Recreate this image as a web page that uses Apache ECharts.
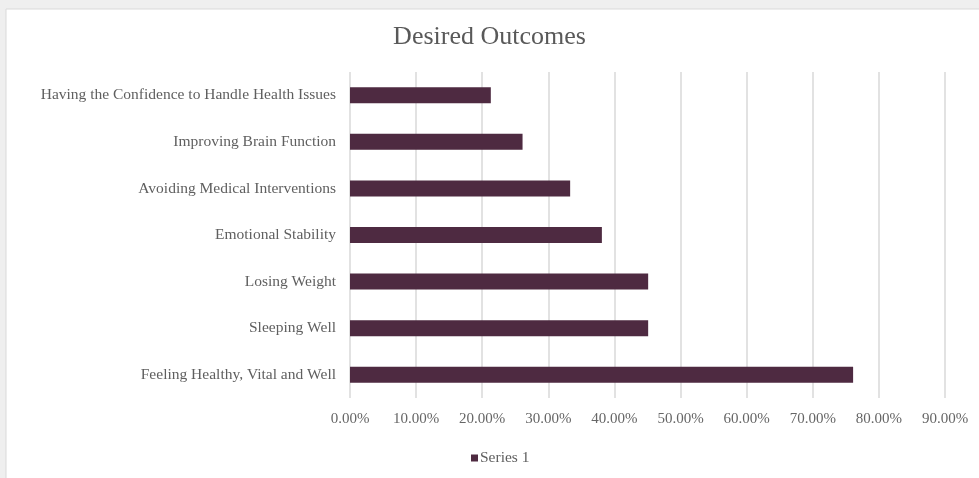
<!DOCTYPE html>
<html>
<head>
<meta charset="utf-8">
<script src="https://cdn.jsdelivr.net/npm/echarts@6/dist/echarts.min.js"></script>
<style>
html,body{margin:0;padding:0;background:#efefef;}
#chart{position:absolute;left:0;top:0;width:979px;height:478px;}
</style>
</head>
<body>
<div id="chart"></div>
<script>
const categories = [
  "Feeling Healthy, Vital and Well",
  "Sleeping Well",
  "Losing Weight",
  "Emotional Stability",
  "Avoiding Medical Interventions",
  "Improving Brain Function",
  "Having the Confidence to Handle Health Issues"
];
const seriesValues = [0.761, 0.451, 0.451, 0.381, 0.333, 0.261, 0.213];
const seriesName = "Series 1";
const titleText = "Desired Outcomes";

const font = "'Liberation Serif', 'DejaVu Serif', serif";
const chart = echarts.init(document.getElementById('chart'));
chart.setOption({
  backgroundColor: '#efefef',
  animation: false,
  graphic: [{
    type: 'rect', z: -10, silent: true,
    shape: {x: 6, y: 9, width: 980, height: 476},
    style: {fill: '#ffffff', stroke: '#d9d9d9', lineWidth: 1}
  }],
  title: {
    text: titleText, left: 'center', top: 19,
    textStyle: {fontFamily: font, fontSize: 26, fontWeight: 'normal', color: '#595959'}
  },
  grid: {left: 350, right: 34, top: 72, bottom: 80, containLabel: false},
  xAxis: {
    type: 'value', min: 0, max: 0.9, interval: 0.1,
    axisLine: {show: false}, axisTick: {show: false},
    splitLine: {lineStyle: {color: '#d9d9d9', width: 1.5}},
    axisLabel: {
      margin: 14, fontFamily: font, fontSize: 15, color: '#666666',
      formatter: v => (v * 100).toFixed(2) + '%'
    }
  },
  yAxis: {
    type: 'category', data: categories,
    axisLine: {show: false}, axisTick: {show: false},
    axisLabel: {margin: 14, fontFamily: font, fontSize: 15.5, color: '#5f5f5f'}
  },
  legend: {
    data: [seriesName], bottom: 7, left: 466,
    icon: 'rect', itemWidth: 7, itemHeight: 7, itemGap: 4,
    textStyle: {fontFamily: font, fontSize: 15.5, color: '#5f5f5f', padding: [0,0,0,-3]}
  },
  series: [{
    name: seriesName, type: 'bar', data: seriesValues,
    barWidth: 16, itemStyle: {color: '#4e2a41'}
  }]
});
</script>
</body>
</html>
